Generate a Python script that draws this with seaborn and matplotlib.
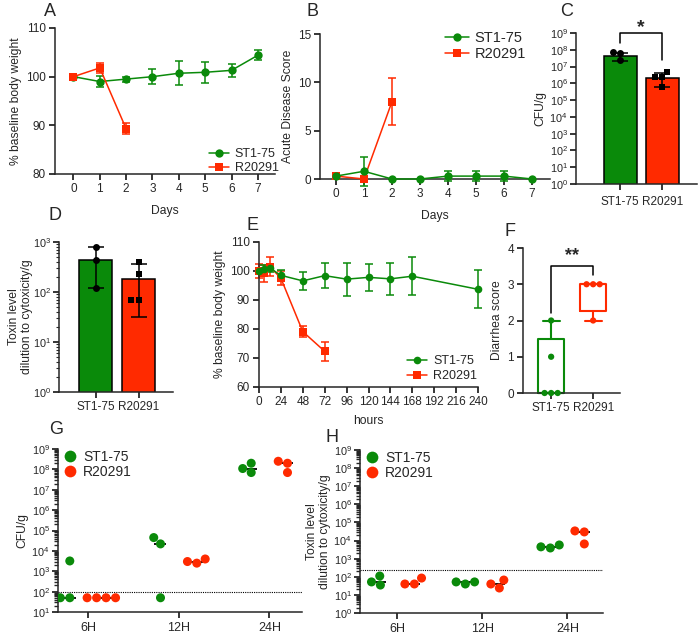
import numpy as np
import pandas as pd
import matplotlib
matplotlib.use("Agg")
import matplotlib.pyplot as plt
import seaborn as sns
from matplotlib.ticker import LogFormatterSciNotation, NullFormatter, FixedLocator

GREEN = "#0a8a0a"
RED = "#ff2a00"
STRAINS = ["ST1-75", "R20291"]
PAL = {"ST1-75": GREEN, "R20291": RED}
MARKERS = {"ST1-75": "o", "R20291": "s"}

# A: body weight over days
a_st1_days = [0, 1, 2, 3, 4, 5, 6, 7]
a_st1_mean = [100, 99.0, 99.5, 100.0, 100.7, 100.9, 101.3, 104.4]
a_st1_sd = [0, 1.1, 0.5, 1.5, 2.5, 2.1, 1.4, 1.0]
a_r20_days = [0, 1, 2]
a_r20_mean = [100, 101.8, 89.3]
a_r20_sd = [0, 1.0, 1.1]

# B: acute disease score
b_st1_days = [0, 1, 2, 3, 4, 5, 6, 7]
b_st1_mean = [0.3, 0.8, 0, 0, 0.3, 0.3, 0.3, 0]
b_st1_sd = [0, 1.5, 0, 0, 0.5, 0.5, 0.5, 0]
b_r20_days = [0, 1, 2]
b_r20_mean = [0.3, 0, 8.0]
b_r20_sd = [0, 0, 2.4]

# C: CFU/g
c_bar = [4.3e7, 2.1e6]
c_err_low = [2.2e7, 6e5]
c_err_high = [6.5e7, 4e6]
c_st1_points = [7.5e7, 6.5e7, 2.3e7]
c_r20_points = [4.5e6, 2.3e6, 2.3e6, 6e5]

# D: toxin level
d_bar = [440, 185]
d_err_low = [120, 32]
d_err_high = [790, 360]
d_st1_points = [790, 440, 120]
d_r20_points = [400, 230, 68, 68]

# E: body weight over hours
e_st1_hours = [0, 6, 12, 24, 48, 72, 96, 120, 144, 168, 240]
e_st1_mean = [100, 100.6, 101, 98.5, 96.6, 98.4, 97.2, 97.8, 97.3, 98.2, 93.7]
e_st1_sd = [0.5, 1.5, 1.5, 2.0, 3.0, 4.2, 5.7, 4.7, 5.5, 6.5, 6.5]
e_r20_hours = [0, 6, 12, 24, 48, 72]
e_r20_mean = [100, 99.2, 101.5, 97.5, 79.1, 72.3]
e_r20_sd = [2.5, 3.0, 3.2, 2.5, 1.8, 3.2]

# F: diarrhea score
f_st1 = [0, 0, 0, 1, 2]
f_r20 = [2, 3, 3, 3]

# G / H: time course
TIMES = ["6H", "12H", "24H"]
g_st1 = {"6H": [3200, 50, 50], "12H": [45000, 22000, 50], "24H": [7e7, 2e8, 1.1e8]}
g_r20 = {"6H": [50, 50, 50, 50], "12H": [2500, 4000, 3000], "24H": [2.5e8, 7e7, 2e8]}
g_limit = 100
h_st1 = {"6H": [35, 110, 52], "12H": [40, 52, 52], "24H": [3900, 5700, 4500]}
h_r20 = {"6H": [40, 85, 40], "12H": [24, 66, 40], "24H": [34000, 30000, 6500]}
h_limit = 250

sns.set_style("ticks")
plt.rcParams["font.family"] = ["Liberation Sans", "DejaVu Sans"]
plt.rcParams["axes.linewidth"] = 1.1
plt.rcParams["xtick.major.width"] = 1.1
plt.rcParams["ytick.major.width"] = 1.1
plt.rcParams["xtick.labelsize"] = 8.5
plt.rcParams["ytick.labelsize"] = 8.5
plt.rcParams["axes.labelsize"] = 8.7

W, H = 700, 639
fig = plt.figure(figsize=(W / 100, H / 100), dpi=100)


def add_ax(l, t, r, b):
    ax = fig.add_axes([l / W, 1 - b / H, (r - l) / W, (b - t) / H])
    sns.despine(ax=ax)
    ax.tick_params(direction="out", length=4, width=1.1, color="black", pad=2.5)
    return ax


def letter(x, y, s):
    fig.text(x / W, 1 - y / H, s, ha="center", va="center", fontsize=13)


def long_frame(x_st1, y_st1, x_r20, y_r20, xname, yname):
    return pd.concat([
        pd.DataFrame({xname: x_st1, yname: y_st1, "strain": "ST1-75"}),
        pd.DataFrame({xname: x_r20, yname: y_r20, "strain": "R20291"}),
    ], ignore_index=True)


def time_course(ax, xs, ms, sds, order, xname, yname, msize):
    df = long_frame(xs["ST1-75"], ms["ST1-75"], xs["R20291"], ms["R20291"], xname, yname)
    for strain in order:
        ax.errorbar(xs[strain], ms[strain], yerr=sds[strain], fmt="none", ecolor=PAL[strain],
                    elinewidth=1.1, capsize=3, capthick=1.1, clip_on=False, zorder=2)
        sns.lineplot(data=df[df.strain == strain], x=xname, y=yname, color=PAL[strain],
                     marker=MARKERS[strain], markersize=msize, markeredgewidth=0, linewidth=1.1,
                     label=strain, ax=ax, zorder=3)
    for ln in ax.lines:
        ln.set_clip_on(False)
    handles, labels = ax.get_legend_handles_labels()
    idx = [labels.index(s) for s in STRAINS]
    return [handles[i] for i in idx], STRAINS


def log_axis(ax, lo, hi, minor=True):
    ax.set_yscale("log")
    ax.set_ylim(lo, hi)
    exps = range(int(round(np.log10(lo))), int(round(np.log10(hi))) + 1)
    ax.yaxis.set_major_locator(FixedLocator([10.0 ** e for e in exps]))
    ax.yaxis.set_major_formatter(LogFormatterSciNotation())
    if minor:
        subs = [m * 10.0 ** e for e in exps[:-1] for m in range(2, 10)]
        ax.yaxis.set_minor_locator(FixedLocator(subs))
        ax.tick_params(axis="y", which="minor", length=2, width=0.8)
    else:
        ax.yaxis.set_minor_locator(matplotlib.ticker.NullLocator())
    ax.yaxis.set_minor_formatter(NullFormatter())
    ax.tick_params(axis="y", which="major", labelsize=7.8, pad=2)


# ---- A ----
ax = add_ax(55, 28, 275, 174)
h_, l_ = time_course(ax, {"ST1-75": a_st1_days, "R20291": a_r20_days},
                     {"ST1-75": a_st1_mean, "R20291": a_r20_mean},
                     {"ST1-75": a_st1_sd, "R20291": a_r20_sd},
                     ["ST1-75", "R20291"], "day", "w", 6)
ax.set_xlim(-0.7, 7.65)
ax.set_ylim(80, 110)
ax.set_yticks([80, 90, 100, 110])
ax.set_xticks(range(8))
ax.set_xlabel("Days", labelpad=7)
ax.set_ylabel("% baseline body weight", labelpad=3)
ax.legend(h_, l_, loc="lower right", frameon=False, fontsize=9, handlelength=1.6,
          borderaxespad=0.0, labelspacing=0.15, handletextpad=0.5, bbox_to_anchor=(1.04, -0.035))
letter(50, 12, "A")

# ---- B ----
ax = add_ax(320, 34, 550, 179)
h_, l_ = time_course(ax, {"ST1-75": b_st1_days, "R20291": b_r20_days},
                     {"ST1-75": b_st1_mean, "R20291": b_r20_mean},
                     {"ST1-75": b_st1_sd, "R20291": b_r20_sd},
                     ["R20291", "ST1-75"], "day", "s", 6)
ax.set_xlim(-0.57, 7.64)
ax.set_ylim(0, 15)
ax.set_yticks([0, 5, 10, 15])
ax.set_xticks(range(8))
ax.set_xlabel("Days", labelpad=7)
ax.set_ylabel("Acute Disease Score", labelpad=3)
ax.legend(h_, l_, loc="upper right", frameon=False, fontsize=10.5, handlelength=1.6,
          borderaxespad=0.0, labelspacing=0.15, handletextpad=0.4, bbox_to_anchor=(0.92, 1.06))
letter(312, 12, "B")


def bar_panel(ax, bars, lows, highs, pts_st1, pts_r20, lo, hi, minor):
    sns.barplot(x=STRAINS, y=bars, hue=STRAINS, palette=PAL, width=0.78, edgecolor="black",
                linewidth=1.1, saturation=1, legend=False, log_scale=True, ax=ax, zorder=1)
    bars_a = np.array(bars)
    ax.errorbar([0, 1], bars_a, yerr=[bars_a - np.array(lows), np.array(highs) - bars_a],
                fmt="none", ecolor="black", elinewidth=1.1, capsize=6, capthick=1.1, zorder=3)
    pts = pd.DataFrame({"strain": ["ST1-75"] * len(pts_st1) + ["R20291"] * len(pts_r20),
                        "v": pts_st1 + pts_r20})
    for strain in STRAINS:
        sns.swarmplot(data=pts[pts.strain == strain], x="strain", y="v", order=STRAINS,
                      color="black", marker=MARKERS[strain], size=5, log_scale=True,
                      ax=ax, zorder=4)
    log_axis(ax, lo, hi, minor)
    ax.set_xlabel("")
    ax.set_xticks([0, 1])
    ax.set_xticklabels(STRAINS)


# ---- C ----
ax = add_ax(576, 33, 697, 184)
bar_panel(ax, c_bar, c_err_low, c_err_high, c_st1_points, c_r20_points, 1, 1e9, False)
ax.set_xlim(-1.05, 1.83)
ax.set_ylabel("CFU/g", labelpad=2)
ax.tick_params(axis="x", pad=5)
ax.plot([0, 0, 1, 1], [2.5e8, 1e9, 1e9, 2.4e7], color="black", lw=1.1, clip_on=False)
ax.text(0.5, 10 ** 9.35, "*", ha="center", va="center", fontsize=14, fontweight="bold")
letter(567, 12, "C")

# ---- D ----
ax = add_ax(59, 242, 173, 392)
bar_panel(ax, d_bar, d_err_low, d_err_high, d_st1_points, d_r20_points, 1, 1e3, True)
ax.set_xlim(-0.85, 1.8)
ax.set_ylabel("Toxin level\ndilution to cytoxicity/g", labelpad=0, linespacing=1.1)
letter(55, 216, "D")

# ---- E ----
ax = add_ax(259, 242, 478, 387)
h_, l_ = time_course(ax, {"ST1-75": e_st1_hours, "R20291": e_r20_hours},
                     {"ST1-75": e_st1_mean, "R20291": e_r20_mean},
                     {"ST1-75": e_st1_sd, "R20291": e_r20_sd},
                     ["R20291", "ST1-75"], "hour", "w", 5.5)
ax.set_xlim(0, 240)
ax.set_ylim(60, 110)
ax.set_xticks(range(0, 241, 24))
ax.set_yticks(range(60, 111, 10))
ax.set_xlabel("hours", labelpad=5)
ax.set_ylabel("% baseline body weight", labelpad=3)
ax.legend(h_, l_, loc="lower right", frameon=False, fontsize=9, handlelength=1.6,
          borderaxespad=0.0, labelspacing=0.2, handletextpad=0.5, bbox_to_anchor=(1.02, 0.0))
letter(253, 226, "E")

# ---- F ----
ax = add_ax(523, 248, 620, 393)
fdf = pd.DataFrame({"strain": ["ST1-75"] * len(f_st1) + ["R20291"] * len(f_r20),
                    "score": f_st1 + f_r20})
sns.swarmplot(data=fdf, x="strain", y="score", hue="strain", order=STRAINS, palette=PAL,
              size=4.5, legend=False, ax=ax, zorder=4)
for c in ax.collections:
    c.set_clip_on(False)


def gp_stats(vals):
    q1, med, q3 = np.percentile(vals, [25, 50, 75], method="weibull")
    return {"med": med, "q1": q1, "q3": q3, "whislo": min(vals), "whishi": max(vals), "fliers": []}


for i, (strain, vals) in enumerate(zip(STRAINS, [f_st1, f_r20])):
    col = PAL[strain]
    ax.bxp([gp_stats(vals)], positions=[i], widths=0.62, manage_ticks=False, showfliers=False,
           boxprops=dict(color=col, lw=1.5), whiskerprops=dict(color=col, lw=1.5),
           capprops=dict(color=col, lw=1.5), medianprops=dict(color=col, lw=1.5), capwidths=0.4)
for ln in ax.lines:
    ln.set_clip_on(False)
ax.set_xlim(-0.67, 1.64)
ax.set_ylim(0, 4)
ax.set_yticks([0, 1, 2, 3, 4])
ax.set_xticks([0, 1])
ax.set_xticklabels(STRAINS)
ax.set_xlabel("")
ax.set_ylabel("Diarrhea score", labelpad=3)
ax.plot([0, 0, 1, 1], [2.2, 3.5, 3.5, 3.25], color="black", lw=1.1)
ax.text(0.5, 3.78, "**", ha="center", va="center", fontsize=13, fontweight="bold")
letter(510, 232, "F")


def time_points(ax, st1, r20, lo, hi, limit, ylabel):
    rows = []
    for strain, dd in zip(STRAINS, [st1, r20]):
        for t in TIMES:
            for v in dd[t]:
                rows.append({"time": t, "strain": strain, "v": v})
    df = pd.DataFrame(rows)
    sns.pointplot(data=df, x="time", y="v", hue="strain", order=TIMES, hue_order=STRAINS,
                  estimator="median", errorbar=None, dodge=0.4, markers="_", linestyles="none",
                  palette=["black", "black"], markersize=9, markeredgewidth=1.3,
                  legend=False, log_scale=True, ax=ax)
    sns.swarmplot(data=df, x="time", y="v", hue="strain", order=TIMES, hue_order=STRAINS,
                  palette=PAL, dodge=True, size=6.5, log_scale=True, ax=ax, zorder=4)
    ax.axhline(limit, color="black", lw=0.8, ls=(0, (1, 1)), zorder=1)
    log_axis(ax, lo, hi, True)
    ax.tick_params(axis="y", which="minor", length=3, width=1.0)
    ax.set_xlabel("")
    ax.set_ylabel(ylabel, labelpad=2, linespacing=1.1)
    ax.tick_params(axis="x", labelsize=9, pad=3)
    hh, ll = ax.get_legend_handles_labels()
    ax.legend(hh, ll, loc="upper left", frameon=False, fontsize=10, handletextpad=0.4,
              handlelength=1.0, borderaxespad=0.0, labelspacing=0.1, markerscale=1.3,
              bbox_to_anchor=(0.0, 1.03))


# ---- G ----
ax = add_ax(58, 449, 302, 612)
time_points(ax, g_st1, g_r20, 10, 1e9, g_limit, "CFU/g")
ax.set_xlim(-0.33, 2.36)
letter(56, 429, "G")

# ---- H ----
ax = add_ax(360, 450, 603, 613)
time_points(ax, h_st1, h_r20, 1, 1e9, h_limit, "Toxin level\ndilution to cytoxicity/g")
ax.set_xlim(-0.44, 2.42)
letter(332, 437, "H")

fig.savefig("out.png", dpi=100)
